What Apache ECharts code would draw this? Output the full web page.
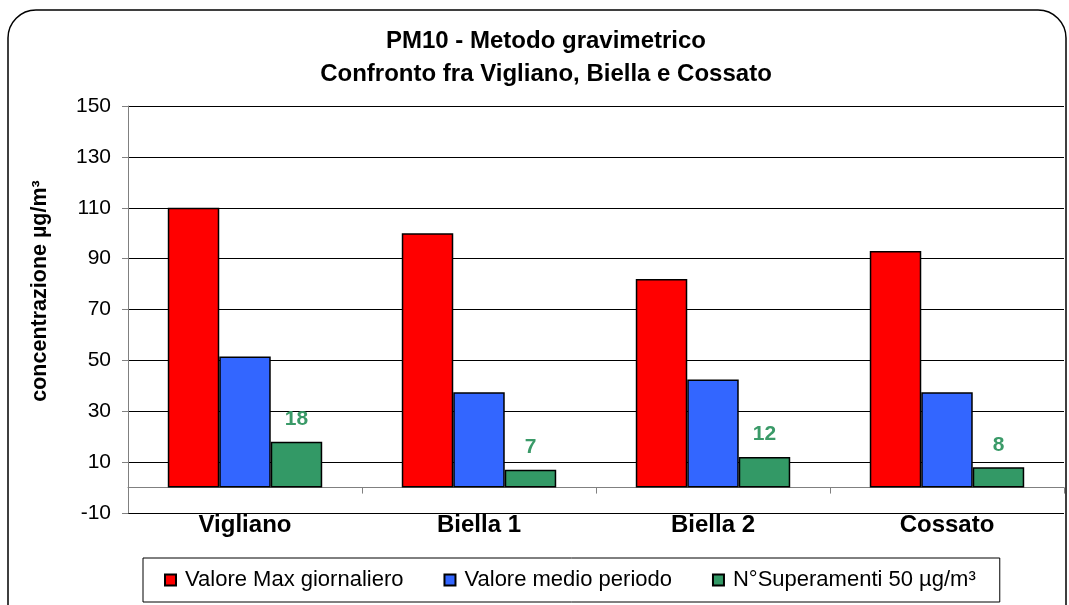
<!DOCTYPE html>
<html>
<head>
<meta charset="utf-8">
<script src="https://cdn.jsdelivr.net/npm/echarts@6/dist/echarts.min.js"></script>
<style>
  html, body { margin: 0; padding: 0; background: #fff; }
  #chart { width: 1069px; height: 605px; }
</style>
</head>
<body>
<div id="chart"></div>
<script>
const stations = ['Vigliano', 'Biella 1', 'Biella 2', 'Cossato']
const maxDaily = [110, 100, 82, 93]
const meanPeriod = [51.5, 37.5, 42.5, 37.5]
const exceedances = [18, 7, 12, 8]
const yTicks = { min: -10, max: 150, step: 20 }

const font = "'Liberation Sans', Arial, sans-serif"
const barBorder = { borderColor: '#000', borderWidth: 1.5 }

const chart = echarts.init(document.getElementById('chart'))

chart.setOption({
  animation: false,
  textStyle: { fontFamily: font },
  title: {
    text: 'PM10 - Metodo gravimetrico\nConfronto fra Vigliano, Biella e Cossato',
    left: 546,
    top: 25,
    padding: 0,
    textAlign: 'center',
    textStyle: {
      fontFamily: font,
      fontSize: 24,
      fontWeight: 'bold',
      lineHeight: 33,
      color: '#000'
    }
  },
  graphic: [{
    type: 'rect',
    shape: { x: 8, y: 10, width: 1058, height: 640, r: 28 },
    style: { fill: 'none', stroke: '#000', lineWidth: 1.5 },
    silent: true
  }, {
    // y axis title, a bit above the plot centre like the original
    type: 'text',
    x: 40,
    y: 291,
    rotation: Math.PI / 2,
    style: {
      text: 'concentrazione µg/m³',
      font: "bold 21.5px 'Liberation Sans', Arial, sans-serif",
      fill: '#000',
      align: 'center',
      verticalAlign: 'middle'
    },
    silent: true
  }],
  legend: {
    left: 143,
    top: 558,
    padding: [11, 24, 11, 21],
    itemGap: 40,
    itemWidth: 11,
    itemHeight: 11,
    icon: 'rect',
    borderColor: '#000',
    borderWidth: 1,
    textStyle: { fontFamily: font, fontSize: 22, color: '#000', padding: [0, 0, 0, 4] },
    data: ['Valore Max giornaliero', 'Valore medio periodo', 'N°Superamenti 50 µg/m³']
  },
  grid: {
    left: 128,
    right: 5,
    top: 106,
    bottom: 92
  },
  xAxis: [{
    type: 'category',
    data: stations,
    position: 'bottom',
    axisLine: { show: false, onZero: false },
    axisTick: { show: false },
    axisLabel: {
      fontFamily: font,
      fontSize: 24,
      fontWeight: 'bold',
      color: '#000',
      margin: 0
    }
  }, {
    type: 'category',
    data: stations,
    position: 'bottom',
    axisLine: { onZero: true, lineStyle: { color: '#808080', width: 1 } },
    axisTick: { show: true, length: 6, lineStyle: { color: '#808080' } },
    axisLabel: { show: false }
  }],
  yAxis: {
    type: 'value',
    min: yTicks.min,
    max: yTicks.max,
    interval: yTicks.step,
    axisLine: { show: true, lineStyle: { color: '#808080' } },
    axisTick: { show: true, length: 6, lineStyle: { color: '#808080' } },
    axisLabel: {
      fontFamily: font,
      fontSize: 21,
      color: '#000',
      margin: 17
    },
    splitLine: { lineStyle: { color: '#000', width: 1 } }
  },
  series: [{
    name: 'Valore Max giornaliero',
    type: 'bar',
    data: maxDaily,
    barCategoryGap: '34%',
    barGap: '0%',
    itemStyle: { color: '#ff0000', ...barBorder }
  }, {
    name: 'Valore medio periodo',
    type: 'bar',
    data: meanPeriod,
    itemStyle: { color: '#3366ff', ...barBorder }
  }, {
    name: 'N°Superamenti 50 µg/m³',
    type: 'bar',
    data: exceedances,
    itemStyle: { color: '#339966', ...barBorder },
    label: {
      show: true,
      position: 'top',
      distance: 12,
      fontFamily: font,
      fontSize: 21,
      fontWeight: 'bold',
      color: '#3a9a68'
    }
  }]
})
</script>
</body>
</html>
